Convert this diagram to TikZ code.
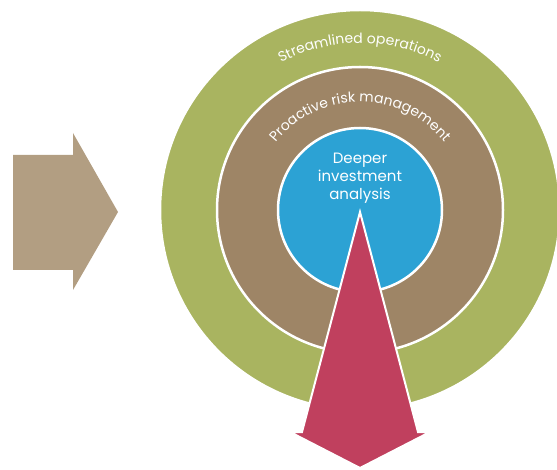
\documentclass[tikz,border=0pt]{standalone}
\usepackage{fontspec}
\setmainfont{Poppins}
\usetikzlibrary{decorations.text}
\definecolor{ringgreen}{RGB}{169,180,96}
\definecolor{ringbrown}{RGB}{158,133,102}
\definecolor{ringblue}{RGB}{44,162,212}
\definecolor{arrowred}{RGB}{192,64,94}
\definecolor{arrowtan}{RGB}{178,158,130}
\tikzset{
  ring/.style={circle, draw=white, line width=2.5pt, inner sep=0pt},
  arctext/.style={decorate, decoration={text along path, text align=center,
    text={|\color{white}\fontsize{14}{14}\selectfont|#1}}}
}
\begin{document}
\begin{tikzpicture}[x=1pt,y=1pt]
  \useasboundingbox (0,0) rectangle (557,469);
  \coordinate (c) at (360,259);
  \node[ring, fill=ringgreen, minimum size=400pt] (outer) at (c) {};
  \node[ring, fill=ringbrown, minimum size=286pt] (middle) at (c) {};
  \node[ring, fill=ringblue, minimum size=164pt] (inner) at (c) {};
  \path[arctext={Streamlined operations}]
    ([shift={(150:167)}]c) arc[start angle=150, end angle=30, radius=167];
  \path[arctext={Proactive risk management}]
    ([shift={(145:108)}]c) arc[start angle=145, end angle=35, radius=108];
  \node[align=center, text=white, font=\fontsize{15}{18}\selectfont]
    (focus) at (360,291) {Deeper\\investment\\analysis};
  \draw[white, line width=2pt, fill=arrowred, line join=miter]
    (c) ++(0,-2) -- (418,37) -- (430,37) -- (360,1) -- (290,37) -- (302,37) -- cycle;
  \fill[arrowtan]
    (13,314) -- (73,314) -- (73,336) -- (118,257) -- (73,179) -- (73,199)
    -- (13,199) -- cycle;
\end{tikzpicture}
\end{document}
